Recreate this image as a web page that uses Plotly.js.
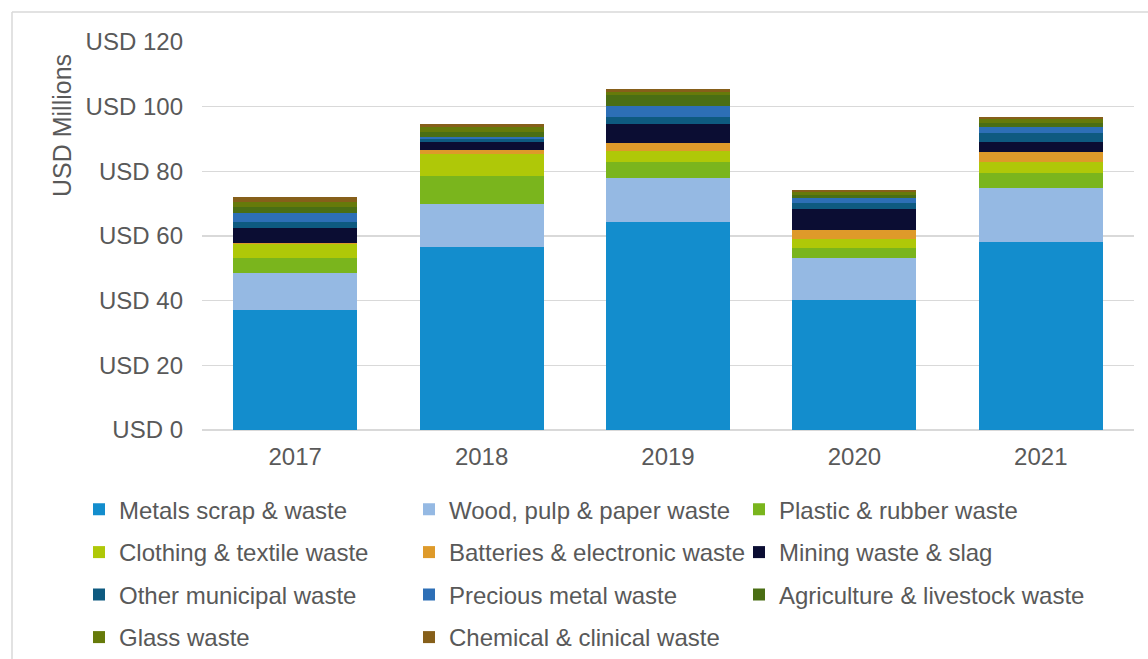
<!DOCTYPE html>
<html>
<head>
<meta charset="utf-8">
<script src="https://cdn.plot.ly/plotly-3.0.1.min.js"></script>
<style>
html, body { margin: 0; padding: 0; background: #ffffff; }
#chart { width: 1148px; height: 659px; }
</style>
</head>
<body>
<div id="chart"></div>
<script>
const years = ["2017", "2018", "2019", "2020", "2021"];
const seriesNames = [
  "Metals scrap & waste", "Wood, pulp & paper waste", "Plastic & rubber waste",
  "Clothing & textile waste", "Batteries & electronic waste", "Mining waste & slag",
  "Other municipal waste", "Precious metal waste", "Agriculture & livestock waste",
  "Glass waste", "Chemical & clinical waste"
];
const metals      = [37.1, 56.6, 64.3, 40.2, 58.1];
const wood        = [11.4, 13.2, 13.6, 13.0, 16.8];
const plastic     = [4.6, 8.9, 5.1, 3.0, 4.5];
const clothing    = [4.4, 6.6, 3.3, 2.9, 3.4];
const batteries   = [0.3, 1.2, 2.4, 2.8, 3.1];
const mining      = [4.8, 2.5, 5.9, 6.5, 3.1];
const otherMunic  = [1.7, 1.0, 2.1, 1.9, 3.0];
const precious    = [2.7, 0.6, 3.5, 1.4, 1.8];
const agriculture = [1.9, 1.7, 3.4, 1.1, 1.3];
const glass       = [1.7, 1.4, 1.0, 0.7, 1.0];
const chemical    = [1.6, 0.9, 0.8, 0.7, 0.6];
const yTickVals = [0, 20, 40, 60, 80, 100, 120];
const yTickText = ["USD 0", "USD 20", "USD 40", "USD 60", "USD 80", "USD 100", "USD 120"];

const seriesValues = [metals, wood, plastic, clothing, batteries, mining,
  otherMunic, precious, agriculture, glass, chemical];
const colors = ["#138DCD", "#95B9E3", "#7AB51D", "#AFC808", "#DE9A2A", "#0B0D33",
  "#0E5A80", "#2D6FB6", "#4A6E14", "#667A0A", "#865F1A"];
const legendIds = ["legend", "legend", "legend", "legend2", "legend2", "legend2",
  "legend3", "legend3", "legend5", "legend4", "legend4"];

const FONT = "Liberation Sans, Arial, sans-serif";
const TXT = "#595959";
const FS = 24;

const traces = seriesNames.map((name, i) => ({
  type: "bar",
  name: name,
  x: years,
  y: seriesValues[i],
  marker: { color: colors[i], line: { width: 0 } },
  legend: legendIds[i],
  hoverinfo: "x+y+name"
}));

// plot area: x 202..1134, y 42..430 (px)
const L = 202, R = 1134, T = 42, B = 430;
const px = x => (x - L) / (R - L);
const py = y => (B - y) / (B - T);

function legendAt(xs, yc, ew) {
  const lg = {
    orientation: "h",
    x: px(xs), xanchor: "left",
    y: py(yc), yanchor: "middle",
    traceorder: "normal",
    font: { family: FONT, size: FS, color: TXT },
    bgcolor: "rgba(0,0,0,0)",
    borderwidth: 0
  };
  if (ew) { lg.entrywidth = ew; lg.entrywidthmode = "pixels"; }
  return lg;
}

const layout = {
  width: 1148, height: 659,
  margin: { l: L, r: 1148 - R, t: T, b: 659 - B, pad: 0, autoexpand: false },
  paper_bgcolor: "#ffffff",
  plot_bgcolor: "#ffffff",
  barmode: "stack",
  bargap: 0.335,
  font: { family: FONT, size: FS, color: TXT },
  xaxis: {
    type: "category",
    tickfont: { family: FONT, size: FS, color: TXT },
    showgrid: false,
    showline: false,
    ticks: "",
    ticklabelstandoff: 10,
    zeroline: false,
    automargin: false
  },
  yaxis: {
    range: [0, 120],
    tickvals: yTickVals,
    ticktext: yTickText,
    tickfont: { family: FONT, size: FS, color: TXT },
    showgrid: true,
    gridcolor: "#d9d9d9",
    gridwidth: 1.3,
    zeroline: true,
    zerolinecolor: "#d9d9d9",
    zerolinewidth: 1.3,
    showline: false,
    ticks: "",
    ticklabelstandoff: 18,
    automargin: false
  },
  legend: legendAt(79, 509.7, 285),
  legend2: legendAt(79, 552.5, 285),
  legend3: legendAt(79, 595, 285),
  legend5: legendAt(79 + 660, 595, 0),
  legend4: legendAt(79, 637.5, 285),
  annotations: [{
    text: "USD Millions",
    xref: "paper", yref: "paper",
    x: px(62), y: py(126),
    xanchor: "center", yanchor: "middle",
    textangle: -90,
    showarrow: false,
    font: { family: FONT, size: 25, color: TXT }
  }],
  shapes: [
    { type: "line", xref: "paper", yref: "paper", x0: px(12), x1: px(12), y0: py(700), y1: py(12),
      line: { color: "#d9d9d9", width: 1.5 } },
    { type: "line", xref: "paper", yref: "paper", x0: px(12), x1: px(1200), y0: py(12), y1: py(12),
      line: { color: "#d9d9d9", width: 1.5 } }
  ]
};

Plotly.newPlot("chart", traces, layout, { displayModeBar: false, staticPlot: true });
</script>
</body>
</html>
